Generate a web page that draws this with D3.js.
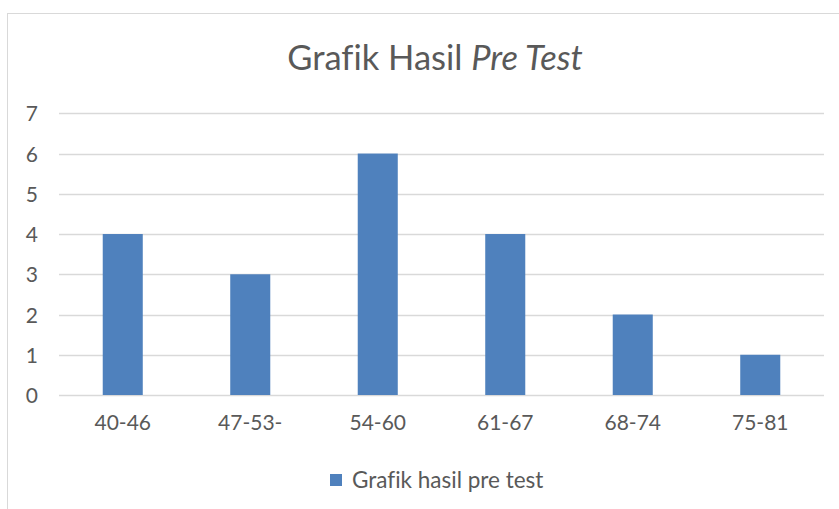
<!DOCTYPE html>
<html><head><meta charset="utf-8">
<script src="https://cdn.jsdelivr.net/npm/d3@7"></script>
<style>
html,body{margin:0;padding:0;background:#fff;}
text{font-family:Lato,"Open Sans",sans-serif;fill:#595959;font-variant-ligatures:none;}
</style></head>
<body>
<svg id="c" width="839" height="509"></svg>
<script>
const categories = ["40-46","47-53-","54-60","61-67","68-74","75-81"];
const values = [4,3,6,4,2,1];
const yTicks = [0,1,2,3,4,5,6,7];
const seriesName = "Grafik hasil pre test";
const titleMain = "Grafik Hasil ";
const titleItalic = "Pre Test";

const svg = d3.select("#c");
// chart frame
svg.append("rect").attr("x",7.5).attr("y",13.5).attr("width",840).attr("height",520)
  .attr("fill","none").attr("stroke","#d9d9d9").attr("stroke-width",1);

const pLeft=59, pRight=824, pTop=113.3, pBottom=395;
const x = d3.scaleBand().domain(categories).range([pLeft,pRight]).paddingInner(0.686).paddingOuter(0.343);
const y = d3.scaleLinear().domain([0,7]).range([pBottom,pTop]);

// gridlines
svg.append("g").selectAll("line").data(yTicks).join("line")
  .attr("x1",pLeft).attr("x2",pRight)
  .attr("y1",d=>Math.round(y(d))+0.5).attr("y2",d=>Math.round(y(d))+0.5)
  .attr("stroke","#d9d9d9").attr("stroke-width",1.3);

// bars
svg.append("g").selectAll("rect").data(values).join("rect")
  .attr("x",(d,i)=>x(categories[i])).attr("width",x.bandwidth())
  .attr("y",d=>y(d)).attr("height",d=>y(0)-y(d))
  .attr("fill","#4f81bd");

// y axis labels
const yAxis = d3.axisLeft(y).tickValues(yTicks).tickSize(0).tickPadding(0).tickFormat(d3.format("d"));
const gy = svg.append("g").attr("transform",`translate(38,0)`).call(yAxis);
gy.select(".domain").remove();
gy.selectAll("text").style("font-size","21px").style("font-family","Lato,sans-serif").attr("fill","#595959").attr("dy","0.36em");

// x axis labels
const xAxis = d3.axisBottom(x).tickSize(0).tickPadding(0);
const gx = svg.append("g").attr("transform",`translate(0,${pBottom+27})`).call(xAxis);
gx.select(".domain").remove();
gx.selectAll("text").style("font-size","21px").style("font-family","Lato,sans-serif").attr("fill","#595959").attr("dy","0.36em");

// title
const t = svg.append("text").attr("x",435).attr("y",70).attr("text-anchor","middle")
  .style("font-size","34.5px");
t.append("tspan").text(titleMain);
t.append("tspan").style("font-style","italic").text(titleItalic);

// legend
svg.append("rect").attr("x",330).attr("y",474).attr("width",12).attr("height",12).attr("fill","#4f81bd");
svg.append("text").attr("x",352).attr("y",480).attr("dy","0.36em").style("font-size","22.5px").text(seriesName);
</script>
</body></html>
